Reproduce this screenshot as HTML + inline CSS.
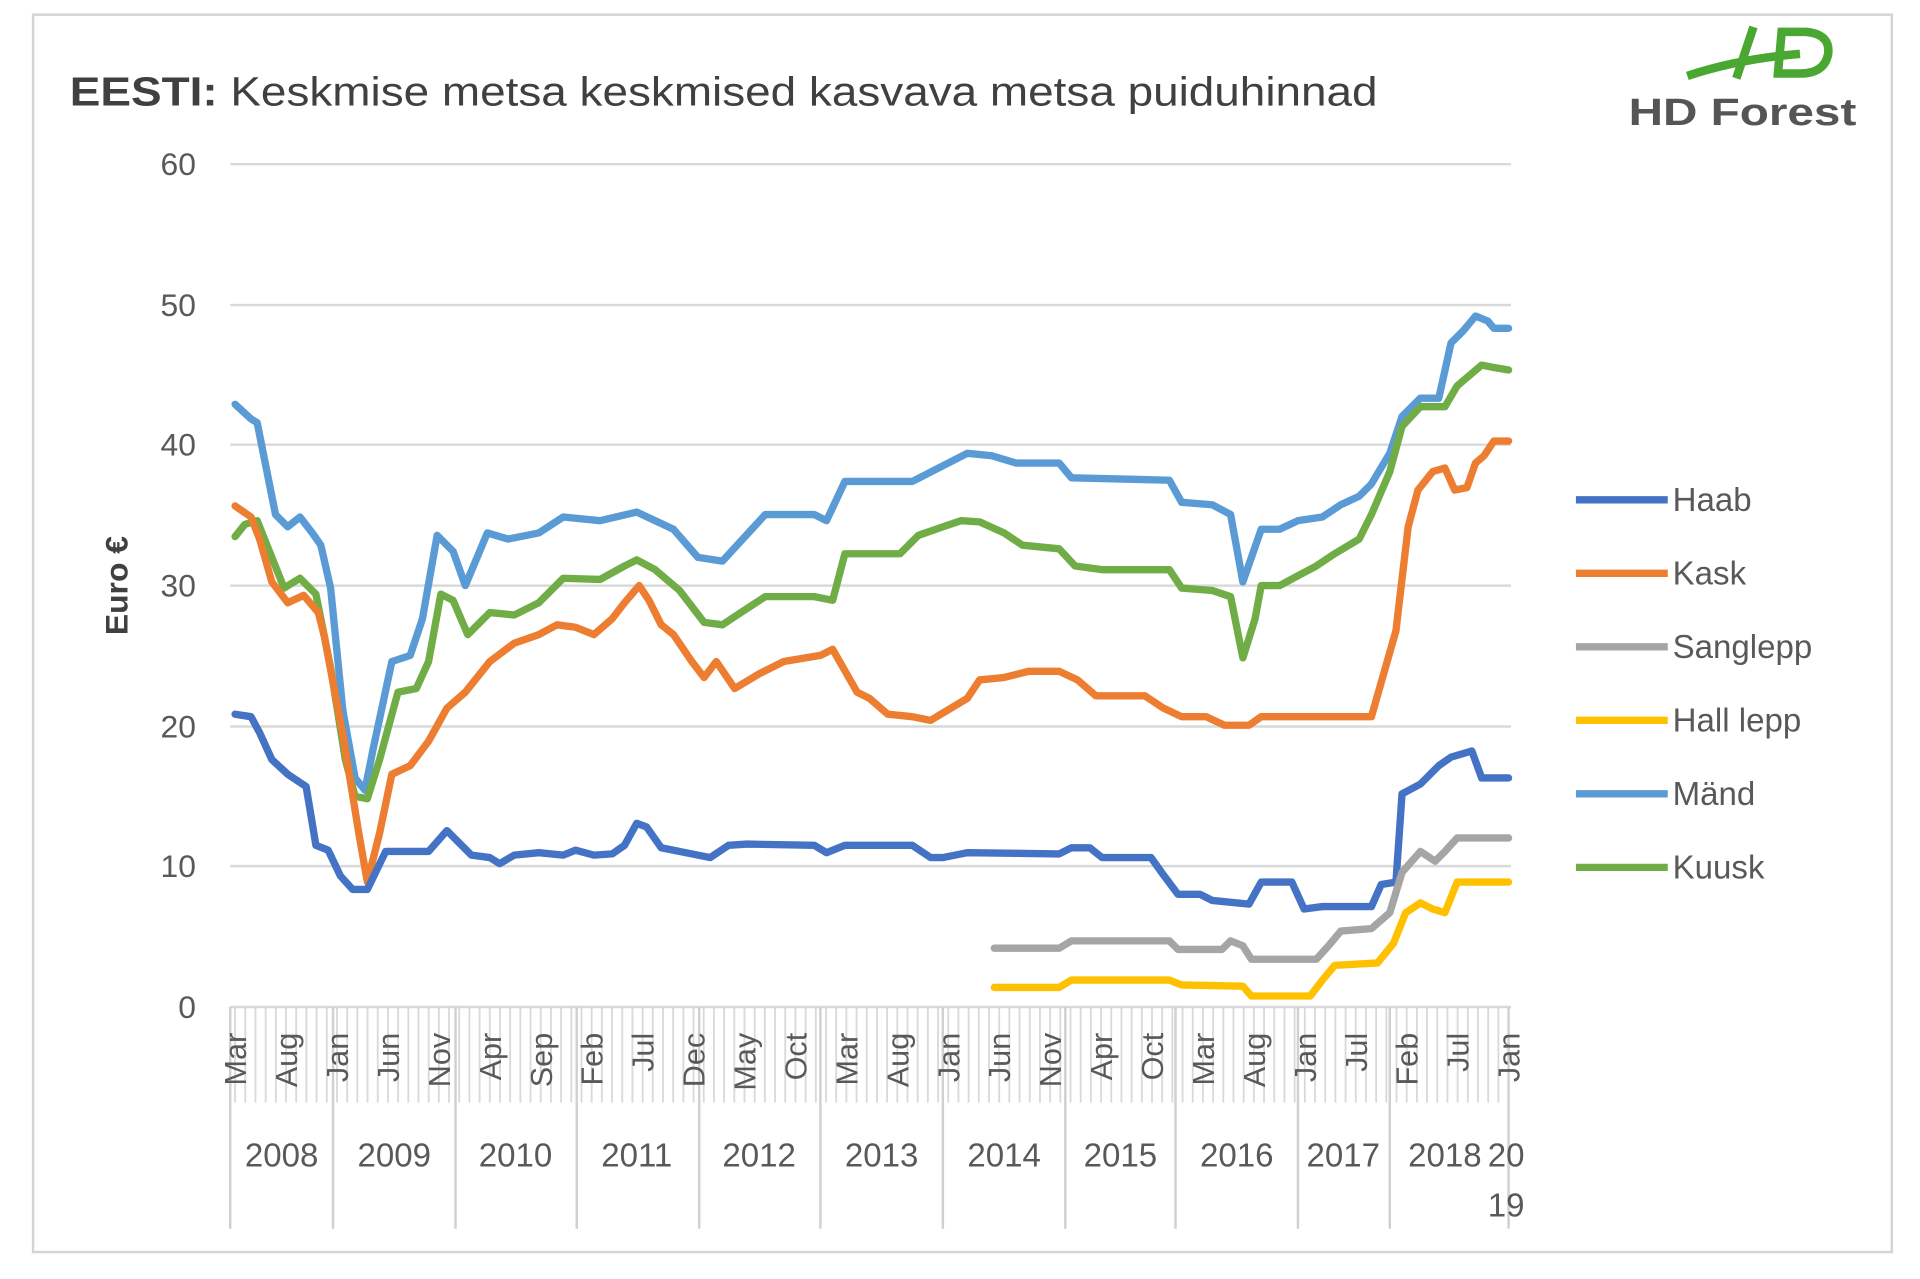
<!DOCTYPE html>
<html><head><meta charset="utf-8"><style>
html,body{margin:0;padding:0;background:#fff;}
svg{display:block;}
text{font-family:"Liberation Sans",sans-serif;}
</style></head><body>
<svg width="1920" height="1279" viewBox="0 0 1568 1044" preserveAspectRatio="none" xmlns="http://www.w3.org/2000/svg">
<rect x="0" y="0" width="1568" height="1044" fill="#fff"/>
<rect x="27" y="12" width="1518" height="1010" fill="none" stroke="#d4d4d4" stroke-width="2"/>
<text x="57" y="86" font-size="33" fill="#404040" textLength="1068" lengthAdjust="spacingAndGlyphs"><tspan font-weight="bold">EESTI:</tspan> Keskmise metsa keskmised kasvava metsa puiduhinnad</text>
<!-- logo -->
<path d="M1378 62 Q1420 48 1470 44" stroke="#4aa832" stroke-width="7" fill="none"/>
<path d="M1432 22 L1418 64" stroke="#4aa832" stroke-width="7" fill="none"/>
<path d="M1455 26 L1475 26 Q1495 28 1493 44 Q1490 60 1470 60 L1452 60 Z" stroke="#4aa832" stroke-width="7" fill="none"/>
<text x="1330" y="102" font-size="31" font-weight="bold" fill="#555" textLength="186" lengthAdjust="spacingAndGlyphs">HD Forest</text>
<g stroke="#d9d9d9" stroke-width="2">
<line x1="188" y1="134" x2="1234" y2="134"/>
<line x1="188" y1="249" x2="1234" y2="249"/>
<line x1="188" y1="363" x2="1234" y2="363"/>
<line x1="188" y1="478" x2="1234" y2="478"/>
<line x1="188" y1="593" x2="1234" y2="593"/>
<line x1="188" y1="707" x2="1234" y2="707"/>
<line x1="188" y1="822" x2="1234" y2="822"/>
</g>
<g font-size="26" fill="#595959" text-anchor="end">
<text x="160" y="143">60</text><text x="160" y="258">50</text><text x="160" y="372">40</text>
<text x="160" y="487">30</text><text x="160" y="602">20</text><text x="160" y="716">10</text><text x="160" y="831">0</text>
</g>
<text transform="translate(104,478) rotate(-90)" font-size="26" font-weight="bold" fill="#404040" text-anchor="middle">Euro €</text>
<g id="ticks" stroke="#d9d9d9" stroke-width="1.5"></g>
<g stroke="#d0d0d0" stroke-width="2">
<line x1="188" y1="822" x2="188" y2="1003"/><line x1="272" y1="822" x2="272" y2="1003"/>
<line x1="372" y1="822" x2="372" y2="1003"/><line x1="471" y1="822" x2="471" y2="1003"/>
<line x1="571" y1="822" x2="571" y2="1003"/><line x1="670" y1="822" x2="670" y2="1003"/>
<line x1="770" y1="822" x2="770" y2="1003"/><line x1="870" y1="822" x2="870" y2="1003"/>
<line x1="960" y1="822" x2="960" y2="1003"/><line x1="1060" y1="822" x2="1060" y2="1003"/>
<line x1="1135" y1="822" x2="1135" y2="1003"/><line x1="1232" y1="822" x2="1232" y2="1003"/>
</g>
<g id="mlabels" font-size="25" fill="#595959" text-anchor="end"></g>
<g font-size="27" fill="#595959" text-anchor="middle">
<text x="230" y="952">2008</text><text x="322" y="952">2009</text><text x="421" y="952">2010</text>
<text x="520" y="952">2011</text><text x="620" y="952">2012</text><text x="720" y="952">2013</text>
<text x="820" y="952">2014</text><text x="915" y="952">2015</text><text x="1010" y="952">2016</text>
<text x="1097" y="952">2017</text><text x="1180" y="952">2018</text><text x="1230" y="952">20</text>
<text x="1230" y="993">19</text>
</g>
<g fill="none" stroke-width="6" stroke-linejoin="round" stroke-linecap="round">
<polyline stroke="#5b9bd5" points="192,330 205,342 210,345 225,420 235,430 245,422 255,435 262,445 270,480 280,580 290,635 298,645 305,610 320,540 335,535 345,505 357,437 370,450 380,478 398,435 415,440 440,435 460,422 490,425 520,418 550,432 570,455 590,458 625,420 665,420 675,425 690,393 745,393 790,370 810,372 830,378 865,378 875,390 955,392 965,410 990,412 1005,420 1015,475 1030,432 1045,432 1060,425 1080,422 1095,412 1110,405 1120,395 1135,370 1145,340 1160,325 1175,325 1185,280 1195,270 1205,258 1215,262 1220,268 1232,268"/>
<polyline stroke="#70ad47" points="192,438 200,428 210,425 220,450 232,480 245,472 258,485 270,545 282,620 290,650 300,652 310,620 325,565 340,562 350,540 360,485 370,490 382,518 400,500 420,502 440,492 460,472 490,473 510,462 520,457 535,465 555,482 575,508 590,510 605,500 625,487 665,487 680,490 690,452 735,452 750,437 770,430 785,425 800,426 820,435 835,445 865,448 878,462 900,465 955,465 965,480 990,482 1005,487 1015,537 1025,505 1030,478 1045,478 1060,470 1075,462 1090,452 1110,440 1120,420 1135,385 1145,348 1160,332 1180,332 1190,315 1210,298 1220,300 1232,302"/>
<polyline stroke="#ed7d31" points="192,413 205,422 212,440 222,475 235,492 248,486 260,500 265,520 280,600 293,680 300,720 310,680 320,632 335,625 350,605 365,578 380,565 400,540 420,525 440,518 455,510 470,512 485,518 500,505 510,492 522,478 530,490 540,510 550,518 565,540 575,553 585,540 600,562 620,550 640,540 670,535 680,530 700,565 710,570 725,583 745,585 760,588 790,570 800,555 820,553 840,548 865,548 880,555 895,568 935,568 950,578 965,585 985,585 1000,592 1020,592 1030,585 1120,585 1130,550 1140,515 1150,430 1158,400 1170,385 1180,382 1188,400 1198,398 1205,378 1212,372 1220,360 1232,360"/>
<polyline stroke="#4472c4" points="192,583 205,585 212,598 222,620 235,632 250,642 258,690 268,694 278,715 288,726 300,726 315,695 350,695 365,678 385,698 400,700 408,705 420,698 440,696 460,698 470,694 485,698 500,697 510,690 520,672 528,675 540,692 560,696 580,700 595,690 610,689 665,690 675,696 690,690 745,690 760,700 770,700 790,696 865,697 875,692 890,692 900,700 940,700 950,714 962,730 980,730 990,735 1020,738 1030,720 1055,720 1065,742 1080,740 1120,740 1128,722 1140,720 1145,648 1160,640 1175,625 1185,618 1202,613 1210,635 1232,635"/>
<polyline stroke="#a5a5a5" points="812,774 865,774 875,768 955,768 962,775 998,775 1005,768 1015,772 1022,783 1075,783 1085,772 1095,760 1120,758 1135,745 1145,712 1160,695 1172,703 1180,695 1190,684 1232,684"/>
<polyline stroke="#ffc000" points="812,806 865,806 875,800 955,800 965,804 1015,805 1022,813 1070,813 1080,800 1090,788 1125,786 1138,770 1148,745 1160,737 1170,742 1180,745 1190,720 1232,720"/>
</g>
<g stroke-width="6">
<line x1="1287" y1="408" x2="1362" y2="408" stroke="#4472c4"/>
<line x1="1287" y1="468" x2="1362" y2="468" stroke="#ed7d31"/>
<line x1="1287" y1="528" x2="1362" y2="528" stroke="#a5a5a5"/>
<line x1="1287" y1="588" x2="1362" y2="588" stroke="#ffc000"/>
<line x1="1287" y1="648" x2="1362" y2="648" stroke="#5b9bd5"/>
<line x1="1287" y1="708" x2="1362" y2="708" stroke="#70ad47"/>
</g>
<g font-size="27" fill="#595959">
<text x="1366" y="417">Haab</text><text x="1366" y="477">Kask</text><text x="1366" y="537">Sanglepp</text>
<text x="1366" y="597">Hall lepp</text><text x="1366" y="657">Mänd</text><text x="1366" y="717">Kuusk</text>
</g>
</svg>
<script>
(function(){
var ns="http://www.w3.org/2000/svg";
var t=document.getElementById("ticks"),m=document.getElementById("mlabels");
var names=["Mar","Aug","Jan","Jun","Nov","Apr","Sep","Feb","Jul","Dec","May","Oct","Mar","Aug","Jan","Jun","Nov","Apr","Oct","Mar","Aug","Jan","Jul","Feb","Jul","Jan"];
var step=1040/125;
for(var i=0;i<=125;i++){
 var x=192+i*step;
 var l=document.createElementNS(ns,"line");
 l.setAttribute("x1",x);l.setAttribute("x2",x);l.setAttribute("y1",822);l.setAttribute("y2",900);
 t.appendChild(l);
 if(i%5==0){
  var tx=document.createElementNS(ns,"text");
  tx.setAttribute("transform","translate("+(x+9)+",843) rotate(-90)");
  tx.textContent=names[i/5];
  m.appendChild(tx);
 }
}
})();
</script>
</body></html>
